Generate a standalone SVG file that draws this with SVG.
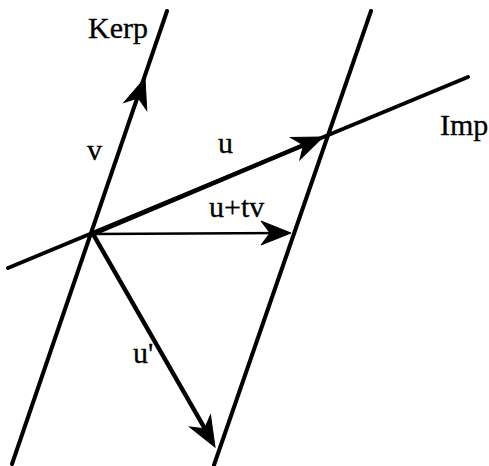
<svg xmlns="http://www.w3.org/2000/svg" width="489" height="466" viewBox="0 0 489 466">
<style>
.ln{stroke:#000;stroke-width:4;stroke-linecap:round;fill:none}
.vec{stroke:#000;stroke-width:4.5;fill:none}
.thin{stroke:#000;stroke-width:2.5;fill:none}
.hd{fill:#000;stroke:#000;stroke-width:1;stroke-linejoin:miter}
text{font-family:"Liberation Serif","Times New Roman",serif;font-size:30px;fill:#000;stroke:#000;stroke-width:0.3}
</style>
<defs>
<path id="ah" d="M0,0 L-30,-12 L-21,0 L-30,12 Z"/>
</defs>
<rect width="489" height="466" fill="#fff"/>
<g id="lines">
<line id="kerp-line" class="ln" x1="167" y1="11" x2="12" y2="464"/>
<line id="right-line" class="ln" x1="371" y1="11" x2="214" y2="465"/>
<line id="imp-line" class="ln" x1="8" y1="268" x2="468" y2="77"/>
</g>
<g id="connectors">
<line class="vec" x1="93" y1="234" x2="318" y2="139"/>
<use href="#ah" class="hd" transform="translate(323,137) rotate(-22.5)"/>
<line class="thin" x1="93" y1="234" x2="285" y2="233"/>
<use href="#ah" class="hd" transform="translate(291,233) rotate(0)"/>
<line class="vec" x1="93" y1="234" x2="212" y2="441"/>
<use href="#ah" class="hd" transform="translate(215,447) rotate(60.2)"/>
<use href="#ah" class="hd" transform="translate(145,78) rotate(-71.3)"/>
</g>
<g id="labels">
<text id="kerp" x="88" y="38">Kerp</text>
<text id="imp" x="440" y="135">Imp</text>
<text id="v" x="87" y="160">v</text>
<text id="u" x="218" y="153">u</text>
<text id="utv" x="209" y="217">u+tv</text>
<text id="uprime" x="133" y="363">u'</text>
</g>
</svg>
